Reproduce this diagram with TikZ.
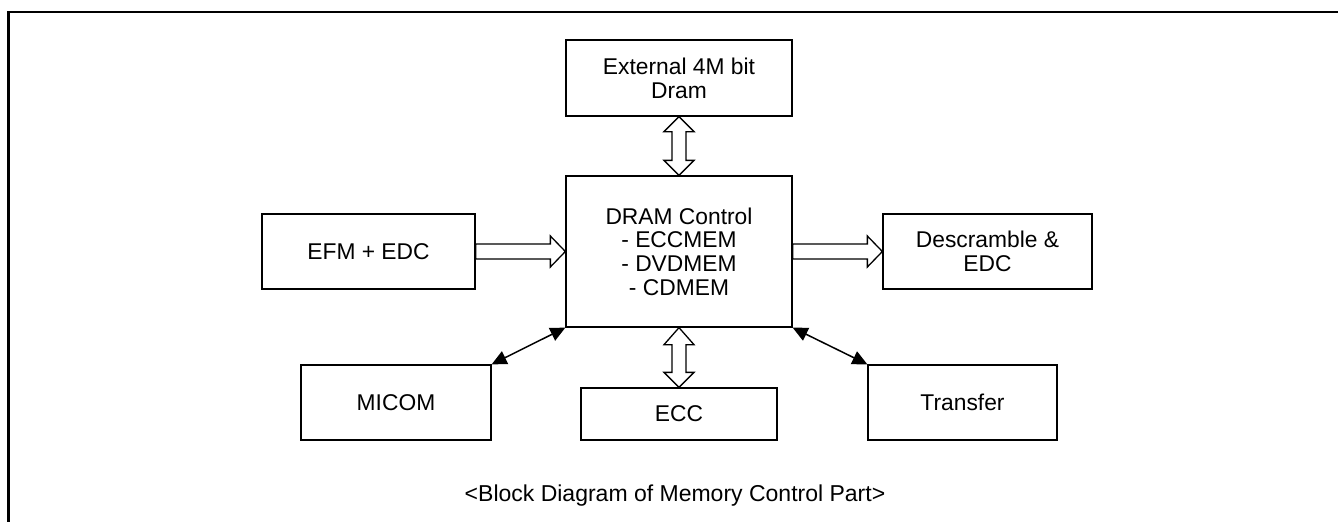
\documentclass[tikz,border=0pt]{standalone}
\usepackage{fontspec}
\setmainfont{Liberation Sans}
\usetikzlibrary{arrows.meta,calc}
\begin{document}
\begin{tikzpicture}[x=1pt,y=-1pt,
    blk/.style={draw, line width=1.3pt, inner sep=0pt, align=center,
      font=\fontsize{22.8}{23.7}\selectfont},
    fat/.style={draw, line width=1.3pt, fill=white, line join=miter},
    thin/.style={line width=1.5pt, {Triangle[length=15pt,width=14pt]}-{Triangle[length=15pt,width=14pt]}}]
				  \useasboundingbox (0,0) rectangle (1338,522);
				  \draw[line width=2.2pt] (1338,12) -- (8.5,12) -- (8.5,522);
				  \node[blk, minimum width=226, minimum height=76] (ext) at (679,78) {External 4M bit\\Dram};
				  \node[blk, minimum width=226, minimum height=151] (dram) at (679,251.5) {DRAM Control\\- ECCMEM\\- DVDMEM\\- CDMEM};
				  \node[blk, minimum width=213, minimum height=75] (efm) at (368.5,251.5) {EFM + EDC};
				  \node[blk, minimum width=209, minimum height=75] (desc) at (987.5,251.5) {Descramble \&\\EDC};
				  \node[blk, minimum width=190, minimum height=75] (micom) at (396,402.5) {MICOM};
				  \node[blk, minimum width=196, minimum height=52] (ecc) at (679,414) {ECC};
				  \node[blk, minimum width=189, minimum height=75] (trans) at (962.5,402.5) {Transfer};
				  \node[font=\fontsize{23}{24}\selectfont] (cap) at (675,496) {<Block Diagram of Memory Control Part>};
				  % wide arrows
				  \draw[fat] ($(efm.east)+(0,-7.5)$) -- ($(dram.west)+(-15,-7.5)$) -- ($(dram.west)+(-15,-15.5)$)
				    -- (dram.west) -- ($(dram.west)+(-15,15.5)$) -- ($(dram.west)+(-15,7.5)$) -- ($(efm.east)+(0,7.5)$) -- cycle;
				  \draw[fat] ($(dram.east)+(0,-7.5)$) -- ($(desc.west)+(-15,-7.5)$) -- ($(desc.west)+(-15,-15.5)$)
				    -- (desc.west) -- ($(desc.west)+(-15,15.5)$) -- ($(desc.west)+(-15,7.5)$) -- ($(dram.east)+(0,7.5)$) -- cycle;
				  \draw[fat] (ext.south) -- ($(ext.south)+(15,15)$) -- ($(ext.south)+(7,15)$) -- ($(dram.north)+(7,-15)$)
				    -- ($(dram.north)+(15,-15)$) -- (dram.north) -- ($(dram.north)+(-15,-15)$) -- ($(dram.north)+(-7,-15)$)
				    -- ($(ext.south)+(-7,15)$) -- ($(ext.south)+(-15,15)$) -- cycle;
				  \draw[fat] (dram.south) -- ($(dram.south)+(15,17)$) -- ($(dram.south)+(7,17)$) -- ($(ecc.north)+(7,-15)$)
				    -- ($(ecc.north)+(15,-15)$) -- (ecc.north) -- ($(ecc.north)+(-15,-15)$) -- ($(ecc.north)+(-7,-15)$)
				    -- ($(dram.south)+(-7,17)$) -- ($(dram.south)+(-15,17)$) -- cycle;
				  % thin arrows
				  \draw[thin] (micom.north east) -- (dram.south west);
				  \draw[thin] (trans.north west) -- (dram.south east);
				\end{tikzpicture}
\end{document}
